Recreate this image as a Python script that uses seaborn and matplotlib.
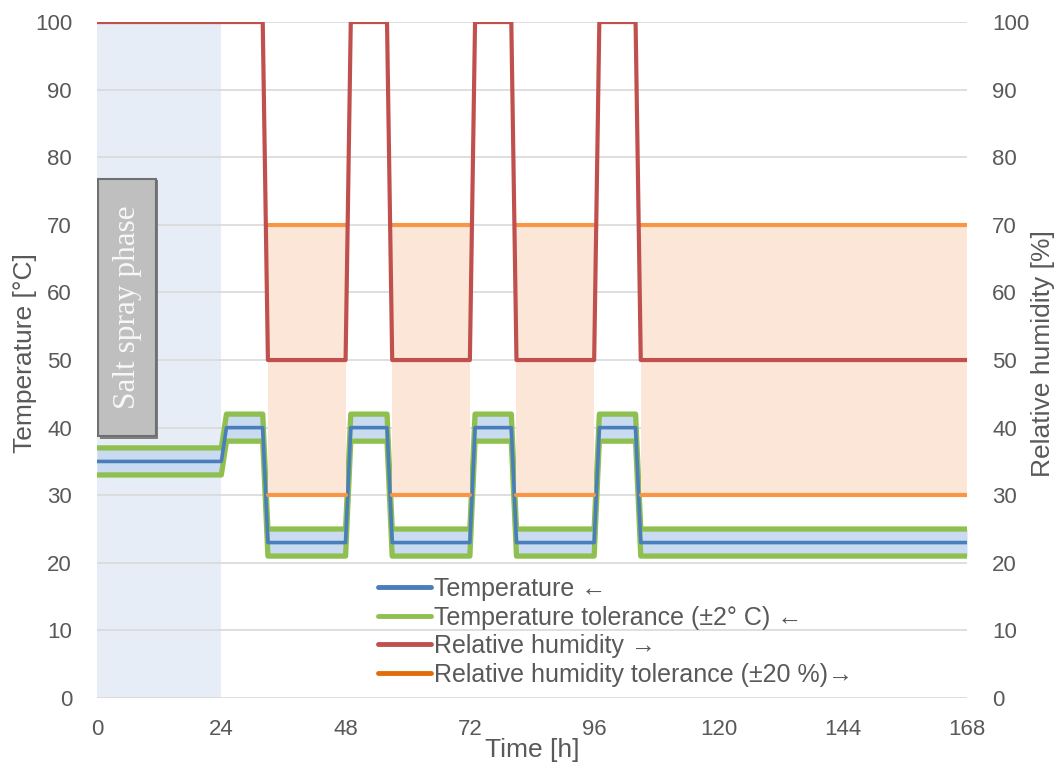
import numpy as np
import pandas as pd
import matplotlib
matplotlib.use("Agg")
import matplotlib.pyplot as plt
from matplotlib.lines import Line2D
from matplotlib.patches import Rectangle
import seaborn as sns

# profile break points (hours) shared by temperature and humidity
time_h = [0, 24, 25, 32, 33, 48, 49, 56, 57, 72, 73, 80, 81, 96, 97, 104, 105, 168]
temperature = [35, 35, 40, 40, 23, 23, 40, 40, 23, 23, 40, 40, 23, 23, 40, 40, 23, 23]
humidity = [100, 100, 100, 100, 50, 50, 100, 100, 50, 50, 100, 100, 50, 50, 100, 100, 50, 50]
temp_tol = 2
hum_tol = 20
salt_spray_end = 24

x_ticks = [0, 24, 48, 72, 96, 120, 144, 168]
y_ticks = list(range(0, 101, 10))

legend_labels = ["Temperature \u2190",
                 "Temperature tolerance (\u00b12\u00b0 C) \u2190",
                 "Relative humidity \u2192",
                 "Relative humidity tolerance (\u00b120 %)\u2192"]

df = pd.DataFrame({"time": time_h, "temp": temperature, "rh": humidity})
df["temp_hi"] = df["temp"] + temp_tol
df["temp_lo"] = df["temp"] - temp_tol
low = df["rh"] < 100
df["rh_hi"] = np.where(low, df["rh"] + hum_tol, np.nan)
df["rh_lo"] = np.where(low, df["rh"] - hum_tol, np.nan)

sns.set_style("white")
plt.rcParams["font.family"] = ["Liberation Sans", "DejaVu Sans"]

grey_txt = "#595959"
c_blue = "#4a7ebb"
c_blue_fill = "#c9dbf1"
c_green = "#8fbf4f"
c_red = "#c0504d"
c_orange = "#f79646"
c_orange_fill = "#fce6d8"

fig = plt.figure(figsize=(10.58, 7.68), dpi=100)
ax = fig.add_axes([0.0917, 0.0911, 0.8223, 0.8802])
ax2 = ax.twinx()

# salt spray phase shading
ax.axvspan(0, salt_spray_end, color="#e6edf6", zorder=0.1, lw=0)

# temperature with tolerance band
ax.fill_between(df["time"], df["temp_lo"], df["temp_hi"], color=c_blue_fill, lw=0, zorder=1)
sns.lineplot(data=df, x="time", y="temp_hi", ax=ax, color=c_green, lw=3.8, estimator=None, sort=False, zorder=2)
sns.lineplot(data=df, x="time", y="temp_lo", ax=ax, color=c_green, lw=3.8, estimator=None, sort=False, zorder=2)
sns.lineplot(data=df, x="time", y="temp", ax=ax, color=c_blue, lw=2.6, estimator=None, sort=False, zorder=3)

# humidity with tolerance band on right axis
ax2.fill_between(df["time"], df["rh"] - hum_tol, df["rh"] + hum_tol, where=low,
                 color=c_orange_fill, lw=0, zorder=1)
ax2.plot(df["time"], df["rh_hi"], color=c_orange, lw=3, zorder=2)
ax2.plot(df["time"], df["rh_lo"], color=c_orange, lw=3, zorder=2)
sns.lineplot(data=df, x="time", y="rh", ax=ax2, color=c_red, lw=3, estimator=None, sort=False, zorder=3)

for a in (ax, ax2):
    a.set_xlim(0, 168)
    a.set_ylim(0, 100)
    a.set_yticks(y_ticks)
    for s in a.spines.values():
        s.set_visible(False)
    a.tick_params(axis="y", length=0, labelsize=16, labelcolor=grey_txt, pad=18)

ax.set_xticks(x_ticks)
ax.set_xticklabels([str(t) for t in x_ticks], fontsize=16, color=grey_txt)
ax.tick_params(axis="x", length=0, pad=15)
ax.grid(axis="y", color="#d9d9d9", lw=1.2)
ax.set_axisbelow(True)

ax.set_xlabel("Time [h]", fontsize=19, color=grey_txt, labelpad=-1)
ax.set_ylabel("Temperature [\u00b0C]", fontsize=19, color=grey_txt)
ax.yaxis.set_label_coords(-0.069, 0.51)
ax2.set_ylabel("Relative humidity [%]", fontsize=19, color=grey_txt)
ax2.yaxis.set_label_coords(1.074, 0.51)

# salt spray label box
ax.add_patch(Rectangle((0.5, 38.3), 11.2, 38.3, facecolor="#7f7f7f", edgecolor="none", zorder=4))
ax.add_patch(Rectangle((0.2, 38.8), 11.2, 38.0, facecolor="#bfbfbf",
                       edgecolor="#6f6f6f", lw=1.5, zorder=5))
ax.text(5.8, 57.8, "Salt spray phase", rotation=90, ha="center", va="center",
        fontsize=22.5, color="#f8f8f8", family=["Liberation Serif", "DejaVu Serif"], zorder=6)

handles = [Line2D([], [], color=c_blue, lw=3.5),
           Line2D([], [], color=c_green, lw=3.5),
           Line2D([], [], color=c_red, lw=3.5),
           Line2D([], [], color="#e36c0a", lw=3.5)]
leg = ax2.legend(handles, legend_labels, loc="center left", bbox_to_anchor=(0.323, 0.098),
                 frameon=False, fontsize=18, labelcolor=grey_txt, handlelength=2.1,
                 handletextpad=0.15, labelspacing=0.18, borderpad=0, borderaxespad=0)

fig.savefig("out.png", dpi=100)
